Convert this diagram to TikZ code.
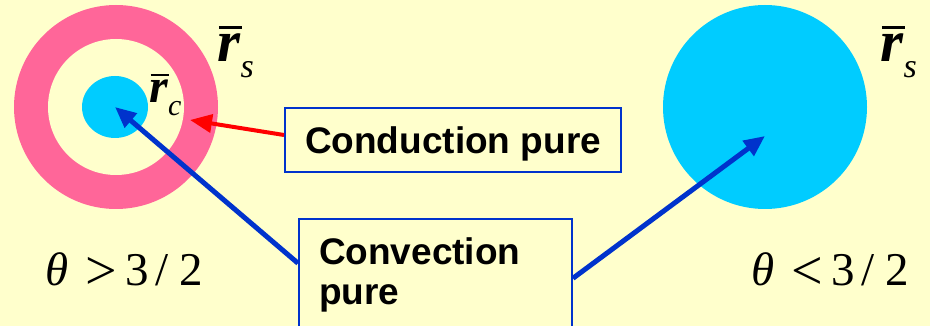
\documentclass[tikz,border=0pt]{standalone}
\usepackage{fontspec}
\setmainfont{Liberation Serif}
\setsansfont{Liberation Sans}
\usetikzlibrary{arrows.meta,shapes.geometric}

\definecolor{bgyellow}{RGB}{255,255,204}
\definecolor{ringpink}{RGB}{255,102,153}
\definecolor{corecyan}{RGB}{0,204,255}
\definecolor{flowblue}{RGB}{0,51,204}

\tikzset{
  disc/.style={circle, inner sep=0pt, draw=none},
  modebox/.style={draw=flowblue, line width=2pt, fill=bgyellow, inner xsep=20pt,
    font=\sffamily\bfseries\fontsize{37}{40}\selectfont},
  blueflow/.style={flowblue, line width=5pt, -{Triangle[length=21pt,width=18pt]}},
  redflow/.style={red, line width=4pt, -{Triangle[length=22pt,width=18pt]}},
  symlab/.style={anchor=base west, inner sep=0pt},
}

\begin{document}
\begin{tikzpicture}[x=1pt, y=-1pt]

  \newcommand\rsub[2]{\rlap{\kern0.03em\rule[0.56em]{0.39em}{0.045em}}\textbf{\textit{r}}\raisebox{-0.26em}{\fontsize{#2}{#2}\selectfont\itshape #1}}
  \newcommand\ineq[1]{\makebox[40pt][l]{\textit{θ}}\makebox[40pt][l]{\raisebox{-4pt}{\fontsize{56}{56}\selectfont#1}}\makebox[30pt][l]{3}\makebox[24pt][l]{/}2}

  \useasboundingbox[fill=bgyellow] (0,0) rectangle (930,326);
  \clip (0,0) rectangle (930,326);

  %% left: shell with core
  \node[disc, fill=ringpink, minimum size=204pt] (shell) at (116,107) {};
  \node[disc, fill=bgyellow, minimum size=136pt] (gap) at (shell) {};
  \node[ellipse, inner sep=0pt, fill=corecyan, minimum width=66pt, minimum height=62pt] (core) at (115,107) {};
  \coordinate (shellhit) at (190,120);

  %% right: full drop
  \node[disc, fill=corecyan, minimum size=204pt] (drop) at (765,107) {};
  \coordinate (drophit) at (765,136);

  \node[symlab, font=\fontsize{59}{59}\selectfont] (rsleft) at (217,62) {\rsub{s}{34}};
  \node[symlab, font=\fontsize{48}{48}\selectfont] (rc) at (149,103) {\rsub{c}{30}};
  \node[symlab, font=\fontsize{59}{59}\selectfont] (rsright) at (880,62) {\rsub{s}{34}};

  \node[symlab, font=\fontsize{47}{47}\selectfont] (thleft) at (45,285) {\ineq{>}};
  \node[symlab, font=\fontsize{47}{47}\selectfont] (thright) at (751,285) {\ineq{<}};

  %% boxes
  \node[modebox, text height=36pt, text depth=8pt, inner ysep=10pt] (cond) at (453,140) {Conduction pure};
  \node[modebox, anchor=north west, inner ysep=19pt, text width=233pt, align=left] (conv) at (298,218) {Convection\\pure};

  \draw[redflow] ([yshift=5pt]cond.west) -- (shellhit); % cond -> shell
  \draw[blueflow] ([yshift=12pt]conv.west) -- (core.center); % conv -> core
  \draw[blueflow] ([yshift=-3pt]conv.east) -- (drophit); % conv -> drop
\end{tikzpicture}
\end{document}
